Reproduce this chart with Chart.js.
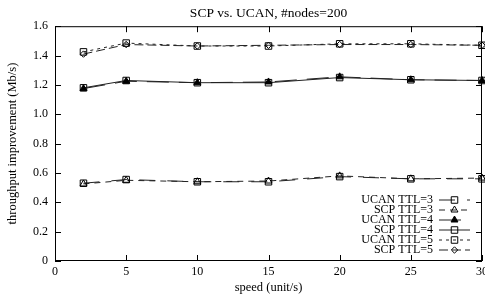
<!DOCTYPE html>
<html>
<head>
<meta charset="utf-8">
<title>SCP vs. UCAN</title>
<script src="https://cdn.jsdelivr.net/npm/chart.js"></script>
<style>
  body { margin: 0; background: #fff; overflow: hidden; }
  #wrap { width: 485px; height: 299px; overflow: hidden; }
</style>
</head>
<body>
<div id="wrap"><canvas id="myChart" width="492" height="299"></canvas></div>
<script>
// values
var speeds = [2, 5, 10, 15, 20, 25, 30];
var ucan3 = [0.53, 0.555, 0.54, 0.54, 0.575, 0.56, 0.56];
var scp3  = [0.525, 0.55, 0.54, 0.545, 0.58, 0.56, 0.565];
var ucan4 = [1.175, 1.225, 1.215, 1.22, 1.255, 1.235, 1.23];
var scp4  = [1.18, 1.23, 1.215, 1.215, 1.25, 1.235, 1.23];
var ucan5 = [1.425, 1.485, 1.465, 1.465, 1.48, 1.48, 1.47];
var scp5  = [1.41, 1.475, 1.465, 1.47, 1.475, 1.475, 1.47];
var seriesNames = ['UCAN TTL=3', 'SCP TTL=3', 'UCAN TTL=4', 'SCP TTL=4', 'UCAN TTL=5', 'SCP TTL=5'];

var serif = "'Liberation Serif', 'DejaVu Serif', serif";

function pts(vals) {
  return speeds.map(function (s, i) { return { x: s, y: vals[i] }; });
}

function ds(label, vals, style, dash, radius, fill) {
  return {
    label: label,
    data: pts(vals),
    borderColor: '#222',
    borderWidth: 1,
    borderDash: dash,
    pointStyle: style,
    pointRadius: radius,
    pointHoverRadius: radius,
    pointBorderColor: '#000',
    pointBorderWidth: 1,
    pointBackgroundColor: fill,
    backgroundColor: fill,
    fill: false,
    tension: 0,
    clip: false
  };
}

// frame, inward ticks on all four sides, and the gnuplot-like key
var gnuFrame = {
  id: 'gnuFrame',
  afterDatasetsDraw: function (chart) {
    var c = chart.ctx, a = chart.chartArea;
    var xs = chart.scales.x, ys = chart.scales.y;
    c.save();
    c.strokeStyle = '#000';
    c.lineWidth = 1;
    c.setLineDash([]);
    c.strokeRect(a.left + 0.5, a.top + 0.5, a.right - a.left - 1, a.bottom - a.top - 1);
    var tl = 6;
    c.beginPath();
    xs.ticks.forEach(function (t) {
      var px = Math.round(xs.getPixelForValue(t.value)) + 0.5;
      c.moveTo(px, a.bottom); c.lineTo(px, a.bottom - tl);
      c.moveTo(px, a.top); c.lineTo(px, a.top + tl);
    });
    ys.ticks.forEach(function (t) {
      var py = Math.round(ys.getPixelForValue(t.value)) + 0.5;
      c.moveTo(a.left, py); c.lineTo(a.left + tl, py);
      c.moveTo(a.right, py); c.lineTo(a.right - tl, py);
    });
    c.stroke();

    // key
    var textRight = a.right - 49;
    var x0 = a.right - 43, x1 = a.right - 12, xm = (x0 + x1) / 2;
    var y0 = a.bottom - 61.5;
    c.font = "12px " + serif;
    c.textAlign = 'right';
    c.textBaseline = 'middle';
    chart.data.datasets.forEach(function (d, i) {
      var y = y0 + i * 10;
      c.fillStyle = '#000';
      c.fillText(d.label, textRight, y + 0.5);
      c.beginPath();
      c.strokeStyle = d.borderColor;
      c.setLineDash(d.borderDash || []);
      c.moveTo(x0, y + 0.5); c.lineTo(x1, y + 0.5);
      c.stroke();
      c.setLineDash([]);
      c.fillStyle = d.pointBackgroundColor;
      c.strokeStyle = '#000';
      Chart.helpers.drawPoint(c, { pointStyle: d.pointStyle, radius: d.pointRadius, borderWidth: 1, rotation: 0 }, xm, y + 0.5);
    });
    c.restore();
  }
};

var ctx = document.getElementById('myChart');
var chart = new Chart(ctx, {
  type: 'line',
  data: {
    datasets: [
      ds(seriesNames[0], ucan3, 'rect', [16, 12], 4.6, 'rgba(0,0,0,0)'),
      ds(seriesNames[1], scp3, 'triangle', [6, 5], 4, 'rgba(0,0,0,0)'),
      ds(seriesNames[2], ucan4, 'triangle', [22, 10], 4, '#000'),
      ds(seriesNames[3], scp4, 'rect', [], 4.6, 'rgba(0,0,0,0)'),
      ds(seriesNames[4], ucan5, 'rect', [3, 4], 4.6, 'rgba(0,0,0,0)'),
      ds(seriesNames[5], scp5, 'rectRot', [9, 4], 3.2, 'rgba(0,0,0,0)')
    ]
  },
  options: {
    responsive: false,
    animation: false,
    events: [],
    layout: { padding: { left: 0, right: 0, top: 0, bottom: 0 } },
    plugins: {
      legend: { display: false },
      tooltip: { enabled: false },
      title: {
        display: true,
        fullSize: false,
        text: 'SCP vs. UCAN, #nodes=200',
        color: '#000',
        font: { family: serif, size: 13.5, weight: 'normal' },
        padding: { top: 5, bottom: 5 }
      }
    },
    scales: {
      x: {
        type: 'linear',
        min: 0,
        max: 30,
        afterFit: function (s) { s.height = 38; },
        ticks: { stepSize: 5, color: '#000', padding: 4, maxRotation: 0, font: { family: serif, size: 12 } },
        grid: { drawOnChartArea: false, drawTicks: false },
        border: { display: false },
        title: {
          display: true,
          text: 'speed (unit/s)',
          color: '#000',
          font: { family: serif, size: 12.5 },
          padding: { top: 0, bottom: 4 }
        }
      },
      y: {
        type: 'linear',
        min: 0,
        max: 1.6,
        afterFit: function (s) { s.width = 55; },
        ticks: { stepSize: 0.2, color: '#000', padding: 7, font: { family: serif, size: 12 } },
        grid: { drawOnChartArea: false, drawTicks: false },
        border: { display: false },
        title: {
          display: true,
          text: 'throughput improvement (Mb/s)',
          color: '#000',
          font: { family: serif, size: 12.5 },
          padding: { top: 5, bottom: 0 }
        }
      }
    }
  },
  plugins: [gnuFrame]
});
</script>
</body>
</html>
